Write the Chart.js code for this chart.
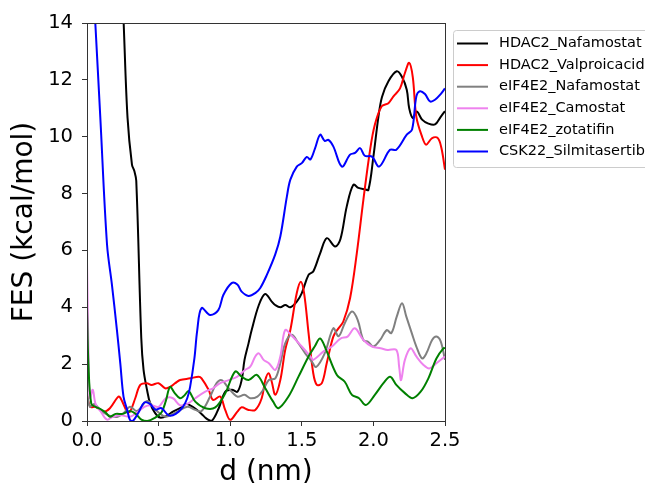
<!DOCTYPE html>
<html>
<head>
<meta charset="utf-8">
<script src="https://cdn.jsdelivr.net/npm/chart.js@4/dist/chart.umd.min.js"></script>
<style>
  html, body { margin: 0; padding: 0; background: #fff; }
  canvas { display: block; }
</style>
</head>
<body>
<canvas id="fes" width="645" height="483"></canvas>
<script>
// series labels, in legend order
const seriesNames = ['HDAC2_Nafamostat', 'HDAC2_Valproicacid', 'eIF4E2_Nafamostat', 'eIF4E2_Camostat', 'eIF4E2_zotatifin', 'CSK22_Silmitasertib'];
const seriesColors = ['#000000', '#ff0000', '#808080', '#ee82ee', '#008000', '#0000ff'];

const xTicks = [0, 0.5, 1.0, 1.5, 2.0, 2.5];
const yTicks = [0, 2, 4, 6, 8, 10, 12, 14];

// HDAC2_Nafamostat
const hdacNafaD = [0.24, 0.256, 0.283, 0.314, 0.33, 0.344, 0.379, 0.395, 0.419, 0.442,
    0.477, 0.51, 0.558, 0.60, 0.65, 0.69, 0.72, 0.76, 0.80, 0.83,
    0.87, 0.92, 0.965, 1.012, 1.05, 1.08, 1.10, 1.128, 1.15, 1.20,
    1.244, 1.29, 1.314, 1.35, 1.385, 1.42, 1.465, 1.50, 1.547, 1.58,
    1.628, 1.675, 1.733, 1.77, 1.814, 1.86, 1.895, 1.94, 1.965, 2.0,
    2.035, 2.06, 2.105, 2.163, 2.2, 2.233, 2.25, 2.275, 2.303, 2.34,
    2.384, 2.43, 2.47, 2.5];
const hdacNafaFes = [16, 14, 10.67, 9.02, 8.8, 8.45, 2.92, 1.8, 1.1, 0.6,
    0.27, 0.12, 0.18, 0.33, 0.45, 0.6, 0.55, 0.42, 0.25, 0.1,
    0.0, 0.45, 1.03, 1.1, 1.03, 1.44, 2.15, 2.73, 3.2, 4.08,
    4.47, 4.2, 4.08, 4.0, 4.08, 4.0, 4.2, 4.5, 5.14, 5.26,
    5.9, 6.43, 6.14, 6.4, 7.55, 8.31, 8.2, 8.15, 8.13, 9.3,
    10.7, 11.4, 11.95, 12.3, 12.1, 11.65, 11.0, 10.66, 10.89, 10.6,
    10.46, 10.43, 10.7, 10.9];

// HDAC2_Valproicacid
const hdacValpD = [0.0, 0.023, 0.06, 0.116, 0.16, 0.22, 0.24, 0.28, 0.30, 0.337,
    0.372, 0.418, 0.45, 0.5, 0.546, 0.58, 0.616, 0.65, 0.72, 0.78,
    0.80, 0.85, 0.88, 0.93, 0.965, 1.0, 1.05, 1.08, 1.128, 1.175,
    1.22, 1.245, 1.268, 1.29, 1.315, 1.35, 1.384, 1.42, 1.465, 1.493,
    1.516, 1.547, 1.58, 1.605, 1.64, 1.674, 1.72, 1.756, 1.79, 1.837,
    1.884, 1.93, 1.977, 2.01, 2.058, 2.105, 2.14, 2.186, 2.22, 2.25,
    2.275, 2.30, 2.34, 2.368, 2.41, 2.45, 2.475, 2.5];
const hdacValpFes = [0.9, 0.5, 0.5, 0.33, 0.45, 0.86, 0.75, 0.33, 0.33, 0.8,
    1.27, 1.33, 1.27, 1.33, 1.15, 1.2, 1.33, 1.44, 1.5, 1.56,
    1.5, 1.09, 0.74, 0.86, 0.39, 0.04, 0.33, 0.48, 0.39, 0.39,
    0.8, 1.44, 1.68, 1.38, 0.92, 1.44, 2.5, 3.2, 4.5, 4.9,
    4.5, 3.1, 1.68, 1.27, 1.33, 2.03, 2.97, 3.26, 3.5, 4.32,
    5.9, 7.78, 9.54, 10.42, 11.07, 11.18, 11.42, 11.7, 12.24, 12.6,
    12.1, 10.7, 10.0, 9.72, 9.95, 9.95, 9.6, 8.84];

// eIF4E2_Nafamostat
const eifNafaD = [0.0, 0.02, 0.05, 0.1, 0.15, 0.21, 0.26, 0.3, 0.35, 0.42,
    0.47, 0.5, 0.55, 0.62, 0.7, 0.756, 0.8, 0.86, 0.905, 0.94,
    0.989, 1.05, 1.1, 1.14, 1.19, 1.23, 1.27, 1.315, 1.35, 1.384,
    1.43, 1.477, 1.524, 1.57, 1.6, 1.66, 1.72, 1.757, 1.80, 1.85,
    1.89, 1.93, 1.965, 2.0, 2.047, 2.093, 2.125, 2.163, 2.2, 2.23,
    2.268, 2.30, 2.34, 2.37, 2.41, 2.44, 2.47, 2.5];
const eifNafaFes = [1.0, 0.5, 0.6, 0.35, 0.2, 0.14, 0.3, 0.5, 0.35, 0.7,
    0.45, 0.3, 0.15, 0.3, 0.5, 0.39, 0.35, 0.86, 1.33, 1.44,
    1.15, 0.86, 0.92, 0.8, 0.86, 1.09, 1.44, 1.5, 2.03, 2.73,
    3.03, 2.73, 2.38, 2.09, 1.9, 2.38, 3.26, 2.98, 3.44, 3.85,
    3.56, 2.85, 2.78, 2.62, 2.85, 3.2, 3.09, 3.67, 4.14, 3.67,
    3.09, 2.62, 2.2, 2.38, 2.85, 2.97, 2.8, 2.15];

// eIF4E2_Camostat
const eifCamoD = [0.0, 0.01, 0.02, 0.04, 0.06, 0.1, 0.14, 0.18, 0.24, 0.3,
    0.35, 0.4, 0.45, 0.5, 0.55, 0.6, 0.65, 0.7, 0.756, 0.826,
    0.88, 0.93, 0.99, 1.05, 1.105, 1.14, 1.175, 1.2, 1.233, 1.27,
    1.315, 1.35, 1.384, 1.43, 1.5, 1.56, 1.58, 1.65, 1.71, 1.77,
    1.82, 1.87, 1.93, 1.99, 2.05, 2.1, 2.16, 2.18, 2.193, 2.22,
    2.26, 2.3, 2.35, 2.39, 2.44, 2.5];
const eifCamoFes = [5.6, 2.5, 0.8, 1.1, 0.6, 0.3, 0.05, 0.15, 0.2, 0.15,
    0.3, 0.5, 0.55, 0.5, 0.8, 0.8, 0.55, 0.6, 0.8, 1.03,
    1.15, 1.33, 1.44, 1.56, 1.8, 1.91, 2.27, 2.38, 2.15, 2.03,
    1.8, 2.27, 3.2, 3.0, 2.62, 2.27, 2.15, 2.44, 2.62, 2.9,
    2.97, 3.26, 2.85, 2.62, 2.56, 2.5, 2.5, 1.9, 1.44, 2.15,
    2.56, 2.27, 1.97, 1.85, 2.03, 2.27];

// eIF4E2_zotatifin
const eifZotaD = [0.0, 0.01, 0.03, 0.06, 0.1, 0.13, 0.16, 0.2, 0.25, 0.3,
    0.34, 0.38, 0.42, 0.47, 0.52, 0.55, 0.58, 0.61, 0.65, 0.68,
    0.71, 0.756, 0.826, 0.896, 0.965, 1.035, 1.08, 1.128, 1.186, 1.245,
    1.30, 1.337, 1.407, 1.477, 1.547, 1.59, 1.628, 1.67, 1.745, 1.8,
    1.85, 1.9, 1.947, 2.01, 2.07, 2.117, 2.16, 2.22, 2.273, 2.33,
    2.384, 2.44, 2.49, 2.5];
const eifZotaFes = [4.0, 2.0, 0.6, 0.5, 0.4, 0.3, 0.15, 0.25, 0.25, 0.35,
    0.25, 0.05, 0.0, 0.1, 0.3, 0.7, 1.2, 1.0, 0.8, 0.9,
    1.05, 0.68, 0.45, 0.48, 0.97, 1.74, 1.56, 1.44, 1.62, 1.15,
    0.68, 0.45, 0.86, 1.56, 2.27, 2.62, 2.9, 2.5, 1.62, 1.38,
    0.92, 0.8, 0.56, 0.92, 1.33, 1.56, 1.27, 0.98, 0.8, 1.03,
    1.5, 2.2, 2.56, 2.56];

// CSK22_Silmitasertib
const cskSilmD = [0.03, 0.058, 0.093, 0.14, 0.174, 0.209, 0.233, 0.255, 0.28, 0.30,
    0.32, 0.36, 0.40, 0.44, 0.477, 0.52, 0.57, 0.62, 0.67, 0.70,
    0.72, 0.75, 0.77, 0.80, 0.86, 0.917, 0.952, 1.01, 1.05, 1.08,
    1.128, 1.175, 1.21, 1.256, 1.314, 1.35, 1.396, 1.42, 1.465, 1.50,
    1.535, 1.56, 1.593, 1.628, 1.66, 1.686, 1.72, 1.78, 1.837, 1.872,
    1.907, 1.94, 1.99, 2.04, 2.116, 2.16, 2.233, 2.27, 2.30, 2.325,
    2.36, 2.396, 2.43, 2.47, 2.5];
const cskSilmFes = [16.5, 14, 10.67, 6.2, 4.8, 3.2, 2.0, 0.86, 0.4, 0.04,
    0.0, 0.3, 0.65, 0.6, 0.4, 0.45, 0.2, 0.25, 0.5, 0.8,
    1.2, 2.2, 3.2, 3.97, 3.73, 3.9, 4.43, 4.85, 4.8, 4.55,
    4.40, 4.5, 4.68, 5.14, 5.85, 6.49, 7.9, 8.49, 8.95, 9.07,
    9.29, 9.2, 9.6, 10.07, 9.85, 9.89, 9.66, 8.95, 9.37, 9.43,
    9.6, 9.33, 9.3, 8.95, 9.54, 9.54, 10.07, 10.25, 11.42, 11.6,
    11.5, 11.24, 11.3, 11.5, 11.7];

const seriesD = [hdacNafaD, hdacValpD, eifNafaD, eifCamoD, eifZotaD, cskSilmD];
const seriesFes = [hdacNafaFes, hdacValpFes, eifNafaFes, eifCamoFes, eifZotaFes, cskSilmFes];

const FONT = 'DejaVu Sans';

// frame around the plot + legend box sitting to the right of it
const framePlugin = {
    id: 'frame',
    afterDatasetsDraw(chart) {
        const { ctx, chartArea: a } = chart;
        ctx.save();
        ctx.strokeStyle = '#333';
        ctx.lineWidth = 1;
        ctx.strokeRect(a.left + 0.5, a.top + 0.5, a.right - a.left, a.bottom - a.top);
        ctx.restore();
    },
    afterDraw(chart) {
        const { ctx } = chart;
        const boxX = 453.5, boxY = 30.5, boxW = 220, boxH = 137;
        ctx.save();
        ctx.fillStyle = 'rgba(255,255,255,0.8)';
        ctx.strokeStyle = '#cccccc';
        ctx.lineWidth = 1;
        ctx.beginPath();
        ctx.roundRect(boxX, boxY, boxW, boxH, 3);
        ctx.fill();
        ctx.stroke();
        ctx.font = `14.5px "${FONT}"`;
        ctx.textBaseline = 'middle';
        ctx.fillStyle = '#000';
        chart.data.datasets.forEach((ds, i) => {
            const y = 43.5 + i * 21.6;
            ctx.strokeStyle = ds.borderColor;
            ctx.lineWidth = 2;
            ctx.beginPath();
            ctx.moveTo(457, y);
            ctx.lineTo(488, y);
            ctx.stroke();
            ctx.fillText(ds.label, 499, y);
        });
        ctx.restore();
    }
};

new Chart(document.getElementById('fes'), {
    type: 'line',
    data: {
        datasets: seriesNames.map((name, i) => ({
            label: name,
            data: seriesD[i].map((d, j) => ({ x: d, y: seriesFes[i][j] })),
            borderColor: seriesColors[i],
            backgroundColor: seriesColors[i],
            borderWidth: 2,
            pointRadius: 0,
            tension: 0.35,
            order: seriesNames.length - i
        }))
    },
    options: {
        responsive: false,
        animation: false,
        layout: { padding: { left: 0, right: 200, top: 23, bottom: 0 } },
        plugins: {
            legend: { display: false },
            tooltip: { enabled: false }
        },
        scales: {
            x: {
                type: 'linear',
                min: 0,
                max: 2.5,
                afterFit: (s) => { s.height = 62; },
                afterBuildTicks: (s) => { s.ticks = xTicks.map(v => ({ value: v })); },
                ticks: {
                    callback: (v) => v.toFixed(1),
                    color: '#000',
                    padding: 3,
                    maxRotation: 0,
                    font: { family: FONT, size: 19.5 }
                },
                grid: { drawOnChartArea: false, tickLength: 5, tickColor: '#333' },
                border: { color: '#333' },
                title: {
                    display: true,
                    text: 'd (nm)',
                    color: '#000',
                    padding: { top: 0, bottom: -4 },
                    font: { family: FONT, size: 28, lineHeight: 1 }
                }
            },
            y: {
                min: 0,
                max: 14,
                afterFit: (s) => { s.width = 87; },
                afterBuildTicks: (s) => { s.ticks = yTicks.map(v => ({ value: v })); },
                ticks: {
                    color: '#000',
                    padding: 9,
                    font: { family: FONT, size: 19.5 }
                },
                grid: { drawOnChartArea: false, tickLength: 5, tickColor: '#333' },
                border: { color: '#333' },
                title: {
                    display: true,
                    text: 'FES (kcal/mol)',
                    color: '#000',
                    padding: { top: 11, bottom: 0 },
                    font: { family: FONT, size: 28, lineHeight: 1 }
                }
            }
        }
    },
    plugins: [framePlugin]
});
</script>
</body>
</html>
